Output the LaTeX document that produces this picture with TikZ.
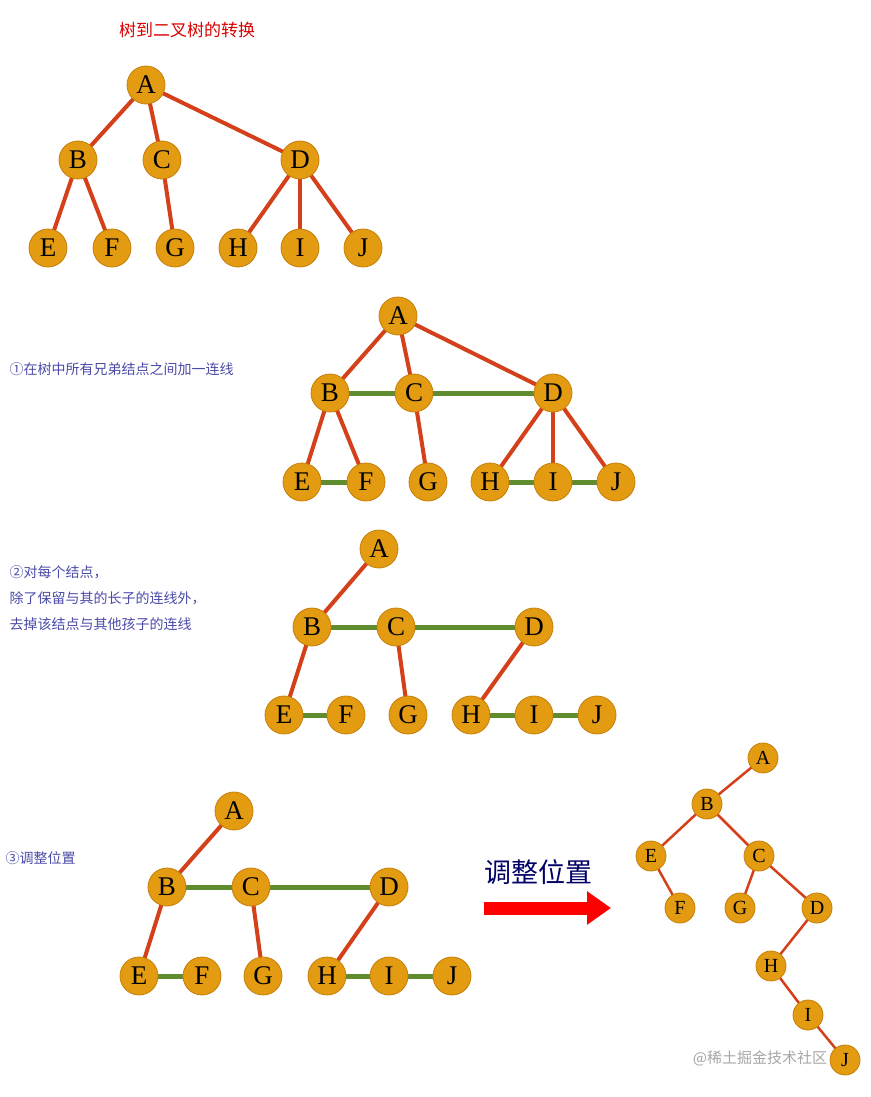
\documentclass[tikz,border=0pt]{standalone}
\usepackage{fontspec}
\setmainfont{Liberation Serif}
\newfontfamily\cjk{Noto Sans CJK SC}
\usetikzlibrary{backgrounds,arrows.meta}
\definecolor{nodeor}{HTML}{E39B12}
\definecolor{nodebd}{HTML}{C57F0A}
\definecolor{redge}{HTML}{D4401A}
\definecolor{gedge}{HTML}{5E8C2E}
\definecolor{captc}{HTML}{4A4AA8}
\tikzset{
  tn/.style={circle,fill=nodeor,draw=nodebd,line width=0.8pt,minimum size=38pt,inner sep=0pt,font=\fontsize{27}{27}\selectfont},
  sn/.style={tn,minimum size=30pt,font=\fontsize{20}{20}\selectfont},
  re/.style={draw=redge,line width=4pt},
  ge/.style={draw=gedge,line width=5pt},
  capt/.style={anchor=west,text=captc,font=\cjk\fontsize{14}{14}\selectfont}
}
\begin{document}
\begin{tikzpicture}[x=1pt,y=-1pt]
\useasboundingbox (0,0) rectangle (870,1097);
\node[text=red!85!black,font=\cjk\fontsize{17}{17}\selectfont] (title) at (187,30) {树到二叉树的转换};
% tree 1
\foreach \n/\x/\y in {A/146/85,B/78/160,C/162/160,D/300/160,E/48/248,F/112/248,G/175/248,H/238/248,I/300/248,J/363/248}
  \node[tn] (a\n) at (\x,\y) {\n};
% tree 2
\foreach \n/\x/\y in {A/398/316,B/330/393,C/414/393,D/553/393,E/302/482,F/366/482,G/428/482,H/490/482,I/553/482,J/616/482}
  \node[tn] (b\n) at (\x,\y) {\n};
% tree 3
\foreach \n/\x/\y in {A/379/549,B/312/627,C/396/627,D/534/627,E/284/715,F/346/715,G/408/715,H/471/715,I/534/715,J/597/715}
  \node[tn] (c\n) at (\x,\y) {\n};
% tree 4
\foreach \n/\x/\y in {A/234/811,B/167/887,C/251/887,D/389/887,E/139/976,F/202/976,G/263/976,H/327/976,I/389/976,J/452/976}
  \node[tn] (d\n) at (\x,\y) {\n};
% tree 5
\foreach \n/\x/\y in {A/763/758,B/707/804,E/651/856,C/759/856,F/680/908,G/740/908,D/817/908,H/771/966,I/808/1015,J/845/1060}
  \node[sn] (e\n) at (\x,\y) {\n};
\begin{scope}[on background layer]
\foreach \p/\c in {A/B,A/C,A/D,B/E,B/F,C/G,D/H,D/I,D/J}
  \draw[re] (a\p.center) -- (a\c.center);
\foreach \p/\c in {A/B,A/C,A/D,B/E,B/F,C/G,D/H,D/I,D/J}
  \draw[re] (b\p.center) -- (b\c.center);
\foreach \p/\c in {B/C,C/D,E/F,H/I,I/J}
  \draw[ge] (b\p.center) -- (b\c.center);
\foreach \m in {c,d}{
  \foreach \p/\c in {A/B,B/E,C/G,D/H}
    \draw[re] (\m\p.center) -- (\m\c.center);
  \foreach \p/\c in {B/C,C/D,E/F,H/I,I/J}
    \draw[ge] (\m\p.center) -- (\m\c.center);
}
\foreach \p/\c in {A/B,B/E,B/C,E/F,C/G,C/D,D/H,H/I,I/J}
  \draw[redge,line width=2.5pt] (e\p.center) -- (e\c.center);
\end{scope}
\node[capt] (t1) at (6,369) {①在树中所有兄弟结点之间加一连线};
\node[capt] (t2) at (6,572) {②对每个结点，};
\node[capt] (t3) at (6,598) {除了保留与其的长子的连线外，};
\node[capt] (t4) at (6,624) {去掉该结点与其他孩子的连线};
\node[capt] (t5) at (2,858) {③调整位置};
\node[text=blue!40!black,font=\cjk\fontsize{27}{27}\selectfont] (big) at (538,872) {调整位置};
\coordinate (ar1) at (484,908);
\coordinate (ar2) at (611,908);
\draw[red,line width=13pt,-{Triangle[length=24pt,width=32pt]}] (ar1) -- (ar2);
\node[text=gray!70,font=\cjk\fontsize{15}{15}\selectfont] (wm) at (760,1058) {@稀土掘金技术社区};
\end{tikzpicture}
\end{document}
